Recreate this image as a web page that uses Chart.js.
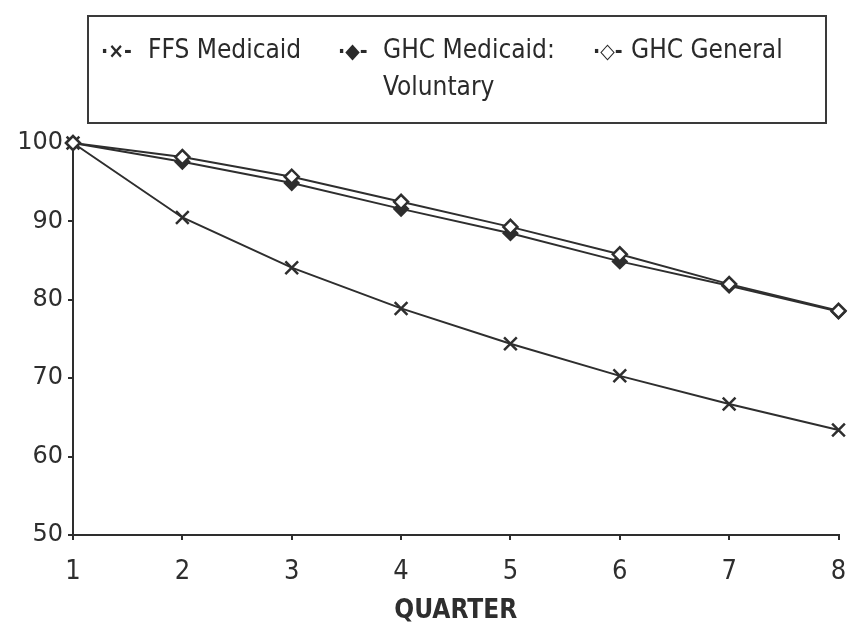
<!DOCTYPE html>
<html>
<head>
<meta charset="utf-8">
<script src="https://cdn.jsdelivr.net/npm/chart.js@4/dist/chart.umd.min.js"></script>
<style>
  html, body { margin: 0; padding: 0; background: #fff; }
  #wrap { position: relative; width: 850px; height: 625px; }
  #legend {
    position: absolute; left: 87px; top: 15px; width: 740px; height: 109px;
    border: 2px solid #3a3a3a; box-sizing: border-box;
    font-family: "DejaVu Sans Condensed", "DejaVu Sans", sans-serif;
    font-size: 26px; color: #2a2a2a;
  }
  .mk, .txt { position: absolute; white-space: nowrap; line-height: 37px; }
  .mk { top: 16px; font-size: 21px; font-weight: bold; }
  .txt { top: 14px; }
</style>
</head>
<body>
<div id="wrap">
  <canvas id="chart" width="850" height="625"></canvas>
  <div id="legend"></div>
</div>
<script>
// данные
const quarters = [1, 2, 3, 4, 5, 6, 7, 8];
const ffsMedicaid = [100, 90.5, 84.1, 78.9, 74.4, 70.3, 66.7, 63.4];
const ghcVoluntary = [100, 97.6, 94.9, 91.6, 88.5, 84.9, 81.8, 78.5];
const ghcGeneral = [100, 98.2, 95.7, 92.5, 89.3, 85.8, 82.0, 78.6];
const seriesNames = ['FFS Medicaid', 'GHC Medicaid:\nVoluntary', 'GHC General'];
const yTicks = [50, 60, 70, 80, 90, 100];

const ink = '#2e2e2e';

// легенда в рамке над графиком
const legendMarks = ['·×-', '·◆-', '·◇-'];
const markLeft = [12, 249, 504];
const textLeft = [59, 294, 542];
const legend = document.getElementById('legend');
seriesNames.forEach((name, i) => {
    const mk = document.createElement('div');
    mk.className = 'mk';
    mk.style.left = markLeft[i] + 'px';
    mk.textContent = legendMarks[i];
    legend.appendChild(mk);

    const txt = document.createElement('div');
    txt.className = 'txt';
    txt.style.left = textLeft[i] + 'px';
    txt.innerHTML = name.split('\n').join('<br>');
    legend.appendChild(txt);
});

const toPoints = vals => vals.map((v, i) => ({ x: quarters[i], y: v }));

new Chart(document.getElementById('chart'), {
    type: 'line',
    data: {
        datasets: [
            {
                label: seriesNames[0],
                data: toPoints(ffsMedicaid),
                order: 2,
                borderColor: ink, borderWidth: 2,
                pointStyle: 'crossRot', pointRadius: 9, pointBorderWidth: 2.5,
                pointBorderColor: ink
            },
            {
                label: seriesNames[1],
                data: toPoints(ghcVoluntary),
                order: 1,
                borderColor: ink, borderWidth: 2,
                pointStyle: 'rectRot', pointRadius: 7, pointBorderWidth: 2,
                pointBackgroundColor: ink, pointBorderColor: ink
            },
            {
                label: seriesNames[2],
                data: toPoints(ghcGeneral),
                order: 0,
                borderColor: ink, borderWidth: 2,
                pointStyle: 'rectRot', pointRadius: 7, pointBorderWidth: 2.5,
                pointBackgroundColor: '#fff', pointBorderColor: ink
            }
        ]
    },
    options: {
        responsive: false,
        animation: false,
        clip: false,
        layout: { padding: { top: 143, right: 4, left: 0, bottom: 0 } },
        plugins: { legend: { display: false }, tooltip: { enabled: false } },
        scales: {
            x: {
                type: 'linear', min: 1, max: 8,
                afterFit: s => { s.height = 90; s.paddingLeft = 0; s.paddingRight = 0; },
                afterBuildTicks: s => { s.ticks = quarters.map(v => ({ value: v })); },
                grid: { drawOnChartArea: false, drawTicks: true, tickLength: 5, color: ink, lineWidth: 2 },
                border: { color: ink, width: 2 },
                ticks: {
                    color: ink, padding: 16,
                    font: { family: 'DejaVu Sans Condensed', size: 27 }
                },
                title: {
                    display: true, text: 'QUARTER', color: ink, padding: { top: 2, bottom: -2 },
                    font: { family: 'DejaVu Sans Condensed', size: 26, weight: 'bold' }
                }
            },
            y: {
                min: 50, max: 100,
                afterFit: s => { s.width = 73; },
                afterBuildTicks: s => { s.ticks = yTicks.map(v => ({ value: v })); },
                grid: { drawOnChartArea: false, drawTicks: true, tickLength: 5, color: ink, lineWidth: 2 },
                border: { color: ink, width: 2 },
                ticks: {
                    color: ink, padding: 5,
                    font: { family: 'DejaVu Sans', size: 24 }
                }
            }
        }
    }
});
</script>
</body>
</html>
